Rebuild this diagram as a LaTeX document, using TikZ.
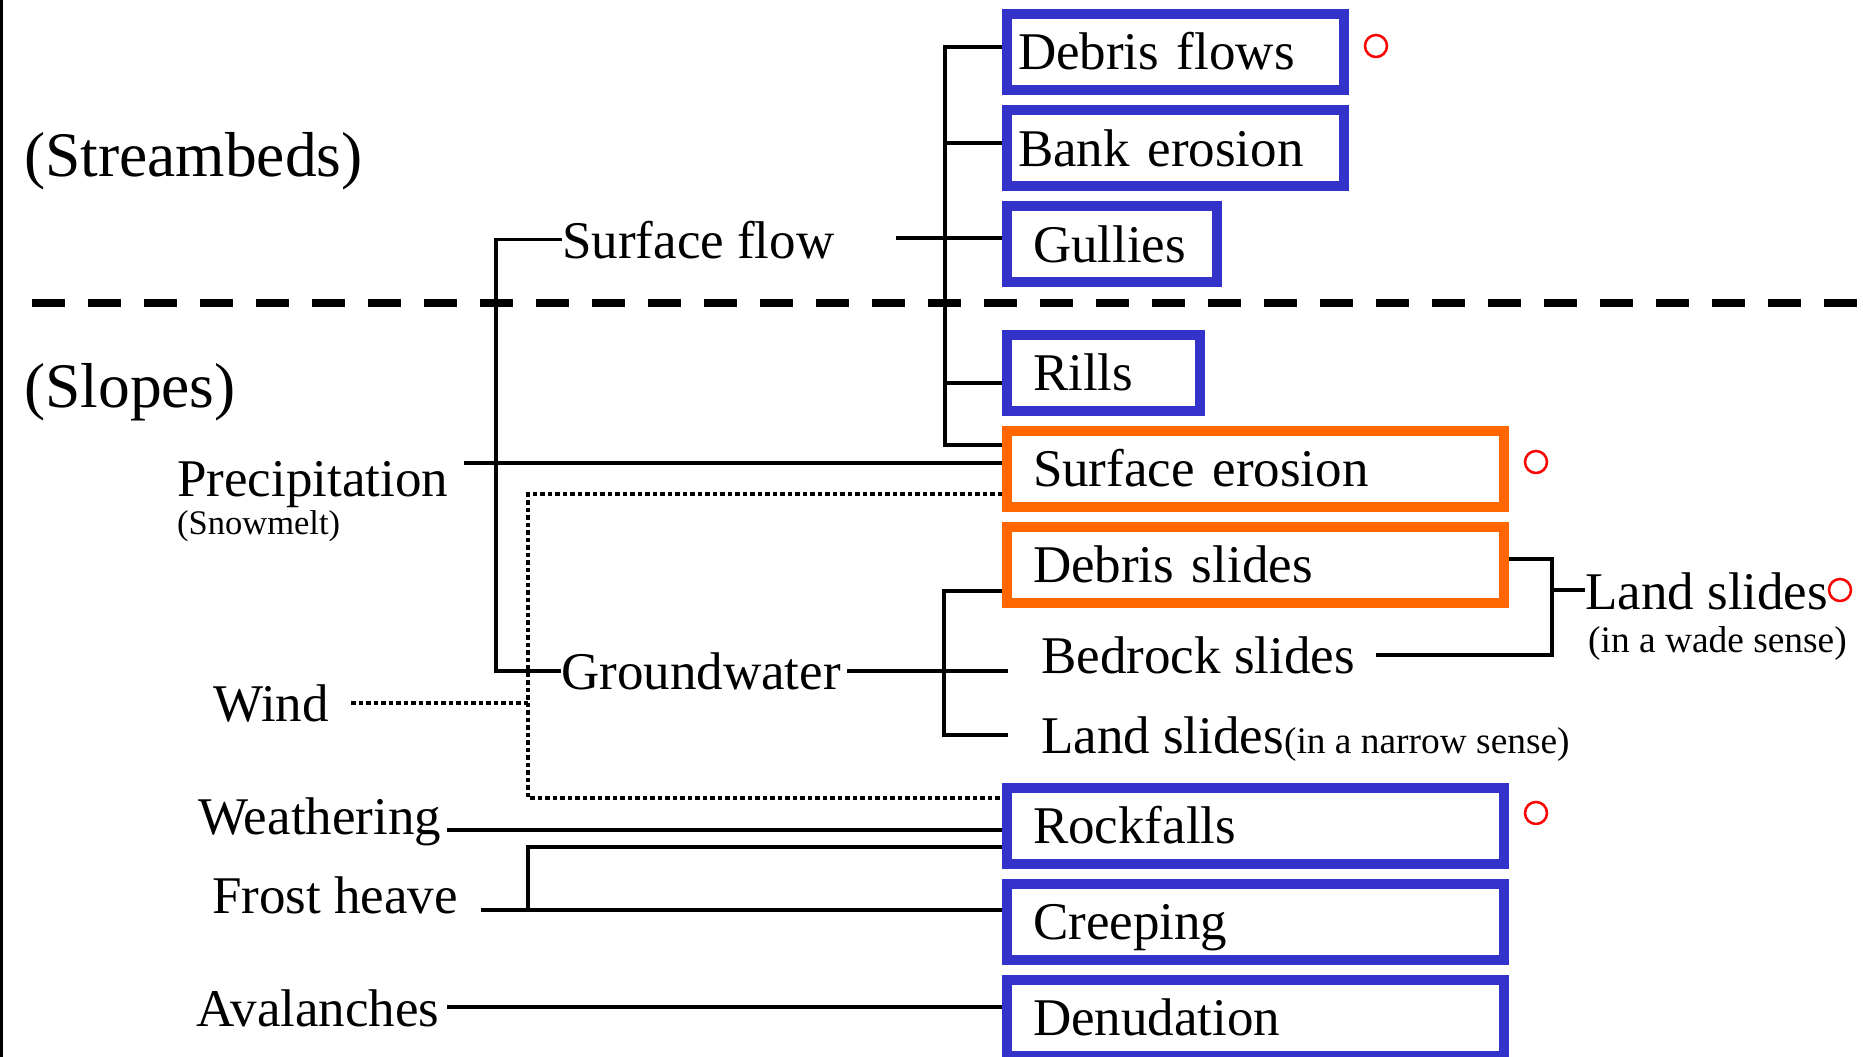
\documentclass[tikz,border=0pt]{standalone}
\usepackage{fontspec}
\setmainfont{Liberation Serif}
\usetikzlibrary{calc,positioning}

\definecolor{boxblue}{RGB}{51,51,204}
\definecolor{boxorange}{RGB}{255,102,0}

\begin{document}
\begin{tikzpicture}[x=1pt,y=-1pt]

  % Sizes
  \def\bigsize{\fontsize{63.5pt}{72pt}\selectfont}
  \def\midsize{\fontsize{53pt}{60pt}\selectfont}
  \def\smallsize{\fontsize{37.4pt}{42pt}\selectfont}
  \def\tinysize{\fontsize{34.5pt}{40pt}\selectfont}

  % Styles
  \tikzstyle{every node}=[inner sep=0pt]
  \tikzstyle{lbl}=[anchor=base west,font=\midsize]
  \tikzstyle{procbox}=[draw=#1,fill=white,line width=10pt,minimum height=76pt,inner xsep=26pt,align=left,text height=40pt,text depth=4pt,font=\midsize]
  \tikzstyle{conn}=[line width=3.6pt]
  \tikzstyle{dotconn}=[line width=4.5pt,dash pattern=on 4.5pt off 3pt]
  \tikzstyle{divider}=[line width=8pt,dash pattern=on 33pt off 23pt]
  \tikzstyle{ring}=[circle,draw=red,line width=2.5pt,minimum size=22pt]

  % \procbox{<id>}{<colour>}{<centre>}{<width>}{<options>}{<label>}
  \newcommand{\procbox}[6]{\node[procbox=#2,minimum width=#4,#5] (#1) at #3 {#6};}

  % ===========================================================================

  \useasboundingbox (0,0) rectangle (1863,1057);

  % Frame and divider
  \draw[line width=3pt] (1.5,0) -- (1.5,1057);
  \draw[divider] (32,303) -- (1863,303);

  % Region labels
  \node[lbl,font=\bigsize] (streambeds) at (24,176) {(Streambeds)};
  \node[lbl,font=\bigsize] (slopes) at (24,407) {(Slopes)};

  % Causes
  \node[lbl] (sflow) at (562,258) {Surface flow};
  \node[lbl] (prec) at (177,496) {Precipitation};
  \node[lbl,font=\tinysize] (snow) at (177,534) {(Snowmelt)};
  \node[lbl] (gwater) at (561,689) {Groundwater};
  \node[lbl] (wind) at (213,721) {Wind};
  \node[lbl] (weath) at (198,834) {Weathering};
  \node[lbl] (frost) at (212,913) {Frost heave};
  \node[lbl] (aval) at (196,1026) {Avalanches};

  % Phenomena
  \procbox{dflows}{boxblue}{(1175.5,52)}{337pt}{text width=315pt,inner xsep=11pt}{Debris flows}
  \procbox{bank}{boxblue}{(1175.5,148)}{337pt}{text width=315pt,inner xsep=11pt}{Bank erosion}
  \procbox{gullies}{boxblue}{(1112,244)}{210pt}{text width=158pt}{Gullies}
  \procbox{rills}{boxblue}{(1103.5,372.5)}{193pt}{text width=141pt}{Rills}
  \procbox{serosion}{boxorange}{(1255.5,468.5)}{497pt}{text width=445pt}{Surface erosion}
  \procbox{dslides}{boxorange}{(1255.5,564.5)}{497pt}{text width=445pt}{Debris slides}
  \node[lbl] (bedrock) at (1041,673) {Bedrock slides};
  \node[lbl] (narrow) at (1041,753) {Land slides{\smallsize(in a narrow sense)}};
  \procbox{rockfalls}{boxblue}{(1255.5,825.5)}{497pt}{text width=445pt}{Rockfalls}
  \procbox{creeping}{boxblue}{(1255.5,921.5)}{497pt}{text width=445pt}{Creeping}
  \procbox{denud}{boxblue}{(1255.5,1017.5)}{497pt}{text width=445pt}{Denudation}
  \node[lbl] (landwide) at (1585,609) {Land slides};
  \node[lbl,font=\smallsize] (wadesense) at (1588,652) {(in a wade sense)};

  % Marks
  \node[ring] (ring-dflows) at (1376,46) {};
  \node[ring] (ring-serosion) at (1536,462) {};
  \node[ring] (ring-landwide) at (1840,590) {};
  \node[ring] (ring-rockfalls) at (1536,813) {};

  % Junctions
  \coordinate (prec-out) at (464,463);
  \coordinate (sflow-out) at (896,238);
  \coordinate (sbus-top) at (945,47);
  \coordinate (sbus-bot) at (945,445);
  \coordinate (gbus-top) at (944,591);
  \coordinate (gbus-bot) at (944,735);
  \coordinate (gw-end) at (1008,671);
  \coordinate (lbr) at (1552,590);
  \coordinate (dot-top) at (528,494);
  \coordinate (dot-bot) at (528,798);
  \coordinate (weath-out) at (447,830);
  \coordinate (frost-out) at (481,910);
  \coordinate (frost-bus) at (528,847);
  \coordinate (aval-out) at (447,1007);

  % Surface flow and groundwater
  \draw[conn] (sflow.west) -- ++(-66,0) |- (gwater.west);
  \draw[conn] (prec-out) -- (prec-out -| serosion.west);
  \draw[conn] (sflow-out) -- (sflow-out -| gullies.west);
  \draw[conn] (sbus-top -| dflows.west) -- (sbus-top) -- (sbus-bot) -- (sbus-bot -| serosion.west);
  \foreach \b/\y in {bank/143,rills/383}
    \draw[conn] (945,\y) -- (\b.west |- 945,\y);
  \draw[conn] ([xshift=6pt]gwater.east) -- (gwater.east -| gw-end);
  \draw[conn] (gbus-top -| dslides.west) -- (gbus-top) -- (gbus-bot) -- (gbus-bot -| gw-end);

  % Land slides in a wide sense
  \draw[conn] (dslides.east |- 0,559) -| (lbr) |- ([xshift=21pt]bedrock.east);
  \draw[conn] (lbr) -- (lbr -| landwide.west);

  % Wind
  \draw[dotconn] (dot-top -| serosion.west) -- (dot-top) -- (dot-bot) -- (dot-bot -| rockfalls.west);
  \draw[dotconn] ([xshift=22pt]wind.east) -- (wind.east -| dot-top);

  % Weathering, frost heave, avalanches
  \draw[conn] (weath-out) -- (weath-out -| rockfalls.west);
  \draw[conn] (frost-out) -- (frost-out -| creeping.west);
  \draw[conn] (frost-out -| frost-bus) -- (frost-bus) -- (frost-bus -| rockfalls.west);
  \draw[conn] (aval-out) -- (aval-out -| denud.west);

\end{tikzpicture}
\end{document}
